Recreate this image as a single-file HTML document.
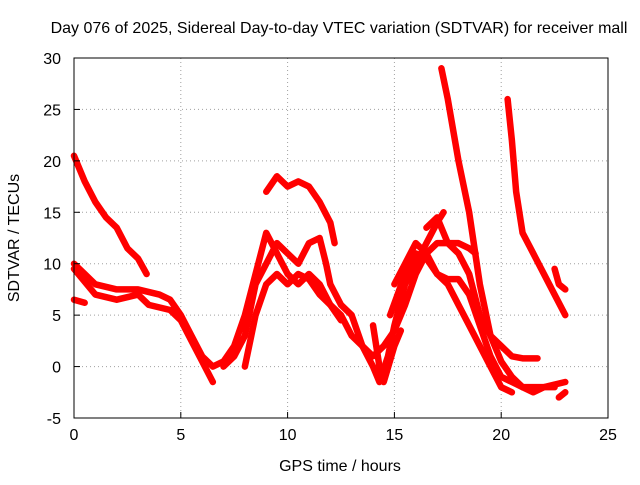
<!DOCTYPE html>
<html><head><meta charset="utf-8"><style>
body{margin:0;background:#fff}
svg text{font-family:"Liberation Sans",sans-serif;font-size:16px;fill:#000}
</style></head><body>
<svg id="chart" width="640" height="480" xmlns="http://www.w3.org/2000/svg">
<text x="339" y="33" text-anchor="middle">Day 076 of 2025, Sidereal Day-to-day VTEC variation (SDTVAR) for receiver mall</text>
<text x="340" y="471" text-anchor="middle">GPS time / hours</text>
<text transform="translate(19,238) rotate(-90)" text-anchor="middle">SDTVAR / TECUs</text>
<g id="grid"></g><g id="series"></g><g id="axes"></g>
</svg>
<script>
const xTicks=[0,5,10,15,20,25];
const yTicks=[-5,0,5,10,15,20,25,30];
const trackA=[[0,20.5],[0.5,18],[1,16],[1.5,14.5],[2,13.5],[2.5,11.5],[3,10.5],[3.4,9]];
const trackB=[[0,10],[0.5,9],[1,8],[2,7.5],[3,7.5],[4,7],[4.5,6.5],[5,5],[5.5,3],[6,1],[6.5,0],[7,0.5],[7.5,2],[8,5],[8.5,9],[9,13],[9.5,11],[10,9],[10.5,8],[11,9],[11.5,8],[12,6],[12.5,4.5]];
const trackC=[[0,6.5],[0.5,6.2]];
const trackD=[[0,9.5],[1,7],[2,6.5],[3,7],[3.5,6],[4.5,5.5],[5,4.5],[5.5,2.5],[6,0.5],[6.5,-1.5]];
const trackE=[[9,17],[9.5,18.5],[10,17.5],[10.5,18],[11,17.5],[11.5,16],[12,14],[12.2,12]];
const trackF=[[7,0],[7.5,1],[8,3],[8.5,8],[9,10],[9.5,12],[10,11],[10.5,10],[11,12],[11.5,12.5],[11.8,10],[12,8],[12.5,6],[13,5],[13.5,2],[14,0],[14.3,-1.5],[14.7,1],[15,4],[15.5,8],[16,10],[16.5,12],[17,14],[17.3,15]];
const trackG=[[8,0],[8.5,5],[9,8],[9.5,9],[10,8],[10.5,9],[11,8.5],[11.5,7],[12,6],[12.5,5],[13,3],[13.5,2],[14,1],[14.5,2],[15,3.5],[15.5,6],[16,9],[16.5,11],[17,12],[18,12],[18.5,11.5],[18.8,11]];
const trackH=[[14.8,5],[15.5,9],[16,11],[16.5,10.5],[17,9],[17.5,8.5],[18,8.5],[18.5,7],[19,4],[19.5,1],[20,-1],[20.5,-1.5],[21,-2],[22,-2],[23,-1.5]];
const trackI=[[17.2,29],[17.5,26],[18,20],[18.5,15],[19,8],[19.5,3],[20,0.5],[20.5,-1],[21,-2],[21.5,-2.5],[22,-2],[22.5,-2]];
const trackJ=[[15,8],[15.5,10],[16,12],[16.5,11],[17,9],[17.5,8],[18,6],[18.5,4],[19,2],[19.5,0],[20,-2],[20.5,-2.5]];
const trackK=[[16.5,13.5],[17,14.5],[17.5,12],[18,11],[18.5,9],[19,5],[19.5,3],[20,2],[20.5,1],[21,0.8],[21.7,0.8]];
const trackL=[[20.3,26],[20.5,22],[20.7,17],[21,13],[21.5,11],[22,9],[22.5,7],[23,5]];
const trackM=[[22.5,9.5],[22.7,8],[23,7.5]];
const trackN=[[22.7,-3],[23,-2.5]];
const trackO=[[14,4],[14.3,0],[14.5,-1.5],[15,2],[15.3,3.5]];
const allTracks=[trackA,trackB,trackC,trackD,trackE,trackF,trackG,trackH,trackI,trackJ,trackK,trackL,trackM,trackN,trackO];

const L=74,R=608,T=58,B=418,xMin=0,xMax=25,yMin=-5,yMax=30;
const sx=v=>L+(v-xMin)/(xMax-xMin)*(R-L);
const sy=v=>B-(v-yMin)/(yMax-yMin)*(B-T);
const NS="http://www.w3.org/2000/svg";
function mk(tag,parent,attrs){const e=document.createElementNS(NS,tag);for(const k in attrs)e.setAttribute(k,attrs[k]);parent.appendChild(e);return e;}
const grid=document.getElementById('grid'),axes=document.getElementById('axes'),ser=document.getElementById('series');
xTicks.forEach(t=>{
  if(t>xMin&&t<xMax){const g=mk('line',grid,{x1:sx(t),x2:sx(t),y1:T,y2:B,stroke:'#a0a0a0','stroke-dasharray':'1,3'});
  
  }
  const tk=mk('line',axes,{x1:sx(t),x2:sx(t),y1:B,y2:B-6,stroke:'#000'});
  
  
  const lb=mk('text',axes,{x:sx(t),y:B+22,'text-anchor':'middle'});lb.textContent=t;
  
  
});
yTicks.forEach(t=>{
  if(t>yMin&&t<yMax){const g=mk('line',grid,{x1:L,x2:R,y1:sy(t),y2:sy(t),stroke:'#a0a0a0','stroke-dasharray':'1,3'});
  
  }
  const tk=mk('line',axes,{x1:L,x2:L+6,y1:sy(t),y2:sy(t),stroke:'#000'});
  
  
  const lb=mk('text',axes,{x:L-13,y:sy(t)+6,'text-anchor':'end'});lb.textContent=t;
  
  
});
const fr=mk('rect',axes,{x:L,y:T,width:R-L,height:B-T,fill:'none',stroke:'#000'});


allTracks.forEach(tr=>{
  const p=mk('polyline',ser,{points:tr.map(d=>sx(d[0])+','+sy(d[1])).join(' '),fill:'none',stroke:'#ff0000','stroke-width':6.5,'stroke-linejoin':'round','stroke-linecap':'round'});
  
  
});
</script>
</body></html>
